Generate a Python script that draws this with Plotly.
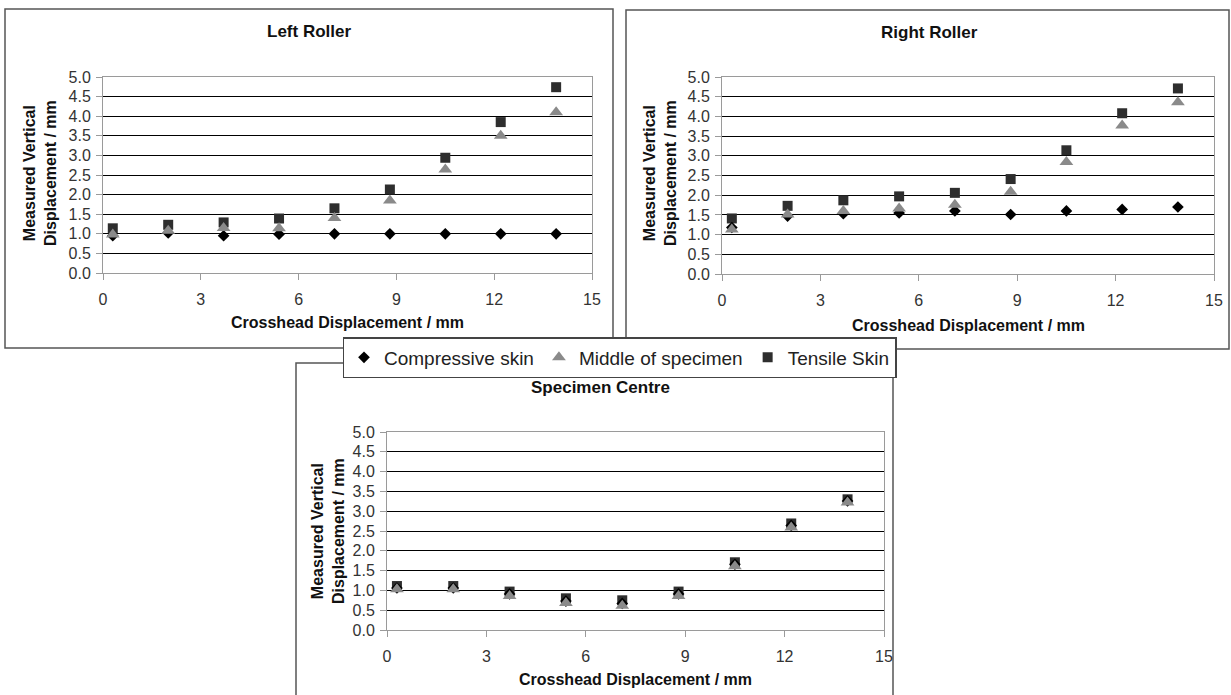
import plotly.graph_objects as go

# ---------------- data ----------------
crosshead = [0.3, 2.0, 3.7, 5.4, 7.1, 8.8, 10.5, 12.2, 13.9]

left_compressive = [0.95, 1.02, 0.95, 0.99, 1.00, 1.00, 1.00, 1.00, 1.00]
left_middle      = [0.98, 1.08, 1.15, 1.14, 1.40, 1.85, 2.64, 3.50, 4.10]
left_tensile     = [1.14, 1.23, 1.29, 1.39, 1.65, 2.13, 2.94, 3.85, 4.74]

right_compressive = [1.18, 1.47, 1.53, 1.55, 1.60, 1.51, 1.60, 1.64, 1.70]
right_middle      = [1.13, 1.51, 1.60, 1.66, 1.76, 2.09, 2.84, 3.77, 4.36]
right_tensile     = [1.41, 1.73, 1.87, 1.97, 2.06, 2.41, 3.14, 4.08, 4.71]

centre_compressive = [1.06, 1.06, 0.91, 0.73, 0.67, 0.91, 1.66, 2.64, 3.26]
centre_middle      = [1.03, 1.03, 0.86, 0.68, 0.61, 0.86, 1.61, 2.59, 3.22]
centre_tensile     = [1.11, 1.11, 0.97, 0.80, 0.75, 0.97, 1.71, 2.69, 3.30]

series_names = ["Compressive skin", "Middle of specimen", "Tensile Skin"]
panel_titles = ["Left Roller", "Right Roller", "Specimen Centre"]
x_title = "Crosshead Displacement / mm"
y_title = "Measured Vertical<br>Displacement / mm"
x_ticks = [0, 3, 6, 9, 12, 15]
y_ticks = [0.0, 0.5, 1.0, 1.5, 2.0, 2.5, 3.0, 3.5, 4.0, 4.5, 5.0]

# ---------------- layout helpers ----------------
W, H = 1231, 695
def px(x):
    return x / W
def py(y):
    return 1 - y / H

FONT = "Liberation Sans, Arial, sans-serif"

panels = [
    dict(data=(left_compressive, left_middle, left_tensile), ax="", plot=(103, 77, 592, 273),
         frame=(5, 9, 613, 348), title=(309, 32), xt=(347, 323), yt=(40, 173)),
    dict(data=(right_compressive, right_middle, right_tensile), ax="2", plot=(722, 77, 1214, 274),
         frame=(626, 10, 1229, 349), title=(929, 33), xt=(968, 325), yt=(660, 173)),
    dict(data=(centre_compressive, centre_middle, centre_tensile), ax="3", plot=(387, 432, 884, 630),
         frame=(296, 363, 893, 720), title=(600, 387), xt=(635, 679), yt=(328, 531)),
]

styles = {
    "Compressive skin": dict(symbol="diamond", color="#000000", size=9),
    "Middle of specimen": dict(symbol="triangle-up", color="#8a8a8a", size=12),
    "Tensile Skin": dict(symbol="square", color="#2e2e2e", size=10),
}
ranks = {"Compressive skin": 1, "Middle of specimen": 2, "Tensile Skin": 3}
draw_order = [2, 0, 1]  # tensile, compressive, middle (middle drawn on top)

fig = go.Figure()
layout = dict()
shapes = []
annotations = []

for i, p in enumerate(panels):
    xa = "x" + p["ax"]
    ya = "y" + p["ax"]
    for k in draw_order:
        name = series_names[k]
        st = styles[name]
        fig.add_trace(go.Scatter(
            x=crosshead, y=p["data"][k], mode="markers", name=name,
            legendgroup=name, showlegend=(i == 0), legendrank=ranks[name],
            marker=dict(symbol=st["symbol"], color=st["color"], size=st["size"],
                        line=dict(width=0)),
            xaxis=xa, yaxis=ya, hoverinfo="x+y"))
    l, t, r, b = p["plot"]
    xkey = "xaxis" + p["ax"]
    ykey = "yaxis" + p["ax"]
    layout[xkey] = dict(
        domain=[px(l), px(r)], anchor=ya, range=[0, 15], tickvals=x_ticks,
        showgrid=False, zeroline=False, showline=True, linecolor="#9a9a9a", linewidth=1,
        mirror=True, ticks="outside", ticklen=6, tickcolor="#9a9a9a",
        ticklabelstandoff=6, automargin=False,
        tickfont=dict(family=FONT, size=16, color="#333333"))
    layout[ykey] = dict(
        domain=[py(b), py(t)], anchor=xa, range=[0, 5], tickvals=y_ticks, tickformat=".1f",
        showgrid=True, gridcolor="#000000", gridwidth=1, zeroline=False,
        showline=True, linecolor="#9a9a9a", linewidth=1, mirror=True,
        ticks="outside", ticklen=6, tickcolor="#9a9a9a", ticklabelstandoff=2, automargin=False,
        tickfont=dict(family=FONT, size=16, color="#333333"))
    fl, ft, fr, fb = p["frame"]
    shapes.append(dict(type="rect", xref="paper", yref="paper",
                       x0=px(fl), x1=px(fr), y0=py(fb), y1=py(ft),
                       line=dict(color="#555555", width=1.5), fillcolor="rgba(0,0,0,0)",
                       layer="below"))
    annotations.append(dict(text="<b>%s</b>" % panel_titles[i], x=px(p["title"][0]), y=py(p["title"][1]),
                            xref="paper", yref="paper", showarrow=False, xanchor="center", yanchor="middle",
                            font=dict(family=FONT, size=17, color="#111111")))
    annotations.append(dict(text="<b>%s</b>" % x_title, x=px(p["xt"][0]), y=py(p["xt"][1]),
                            xref="paper", yref="paper", showarrow=False, xanchor="center", yanchor="middle",
                            font=dict(family=FONT, size=16, color="#111111")))
    annotations.append(dict(text="<b>%s</b>" % y_title, x=px(p["yt"][0]), y=py(p["yt"][1]),
                            xref="paper", yref="paper", showarrow=False, xanchor="center", yanchor="middle",
                            textangle=-90,
                            font=dict(family=FONT, size=16, color="#111111")))

fig.update_layout(
    width=W, height=H,
    margin=dict(l=0, r=0, t=0, b=0, pad=0, autoexpand=False),
    paper_bgcolor="white", plot_bgcolor="white",
    shapes=shapes, annotations=annotations,
    legend=dict(orientation="h", x=px(619.5), xanchor="center", y=py(337), yanchor="top",
                bgcolor="white", bordercolor="#444444", borderwidth=1.5,
                font=dict(family=FONT, size=19, color="#222222"),
                itemwidth=30, tracegroupgap=0, traceorder="normal"),
    showlegend=True,
    **layout,
)

fig.write_html(
    "out.html",
    config={"displayModeBar": False},
    post_script="document.body.style.margin='0';document.body.style.overflow='hidden';",
)
